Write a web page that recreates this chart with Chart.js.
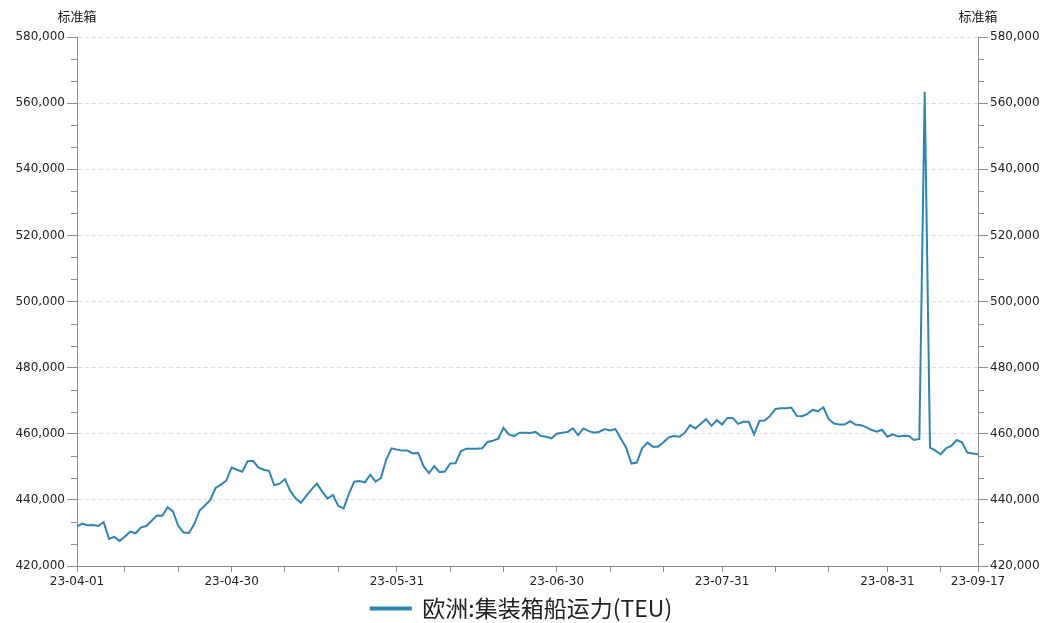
<!DOCTYPE html>
<html>
<head>
<meta charset="utf-8">
<script src="https://cdn.jsdelivr.net/npm/chart.js@4.4.0/dist/chart.umd.min.js"></script>
<style>
html,body{margin:0;padding:0;background:#fff}
#wrap{width:1043px;height:623px;position:relative}
</style>
</head>
<body>
<div id="wrap"><canvas id="c"></canvas></div>
<script>
// daily dates 23-04-01 .. 23-09-17
const firstDay = [2023, 3, 1];
const dayCount = 170;

// which day indexes carry a tick, and which of those get a label
const tickDays = [0, 9, 19, 29, 39, 49, 60, 70, 80, 90, 100, 110, 121, 131, 141, 152, 162, 169];
const labelDays = [0, 29, 60, 90, 121, 152, 169];

const yTicks = [420000, 440000, 460000, 480000, 500000, 520000, 540000, 560000, 580000];

const seriesName = '欧洲:集装箱船运力(TEU)';
const unitLabel = '标准箱';

const teu = [
  432000, 432800, 432300, 432400, 432100, 433300, 428200, 428800, 427600, 428900,
  430400, 429900, 431700, 432100, 433700, 435300, 435200, 437800, 436500, 432100,
  430100, 430000, 432700, 436800, 438300, 440000, 443600, 444600, 445800, 449800,
  449100, 448500, 451700, 451800, 449800, 449100, 448800, 444400, 444900, 446300,
  442700, 440500, 439100, 441200, 443200, 444900, 442500, 440400, 441500, 438200,
  437400, 441800, 445500, 445700, 445300, 447600, 445500, 446600, 452200, 455600,
  455200, 454900, 454900, 454000, 454200, 450200, 448100, 450200, 448400, 448600,
  451000, 451100, 454700, 455500, 455500, 455500, 455600, 457500, 457900, 458500,
  461800, 459800, 459300, 460300, 460300, 460200, 460600, 459300, 459100, 458600,
  460000, 460300, 460500, 461600, 459600, 461600, 460800, 460300, 460600, 461400,
  461000, 461400, 458600, 455800, 451000, 451300, 455600, 457300, 456100, 456100,
  457400, 458900, 459300, 459100, 460300, 462600, 461600, 463000, 464400, 462400,
  464100, 462800, 464800, 464800, 463000, 463600, 463600, 459800, 463900, 464000,
  465400, 467500, 467700, 467700, 467900, 465400, 465300, 466000, 467200, 466800,
  468000, 464400, 463100, 462800, 462800, 463800, 462800, 462600, 462000, 461200,
  460600, 461200, 459100, 459800, 459200, 459400, 459300, 458100, 458400, 563400,
  455800, 454900, 453800, 455600, 456300, 458100, 457400, 454300, 454000, 453800
];

function pad(n) { return (n < 10 ? '0' : '') + n; }
const dates = [];
for (let i = 0; i < dayCount; i++) {
  let d = new Date(firstDay[0], firstDay[1], firstDay[2] + i);
  dates.push(String(d.getFullYear()).slice(2) + '-' + pad(d.getMonth() + 1) + '-' + pad(d.getDate()));
}

const lineColor = '#3084b2';
const axisColor = '#8c8c8c';
const textColor = '#222';
const tickFont = {family: 'DejaVu Sans', size: 12};

// short minor ticks between the labelled y ticks, on both sides
const minorTicks = {
  id: 'minorTicks',
  afterDraw(chart) {
    let ctx = chart.ctx;
    ctx.save();
    ctx.strokeStyle = axisColor;
    ctx.lineWidth = 1;
    ['y', 'y2'].forEach((id) => {
      let sc = chart.scales[id];
      let x0 = id === 'y' ? sc.right : sc.left;
      let dir = id === 'y' ? -1 : 1;
      for (let i = 0; i < yTicks.length - 1; i++) {
        for (let k = 1; k < 3; k++) {
          let v = yTicks[i] + (yTicks[i + 1] - yTicks[i]) * k / 3;
          let py = Math.round(sc.getPixelForValue(v)) + 0.5;
          ctx.beginPath();
          ctx.moveTo(x0, py);
          ctx.lineTo(x0 + dir * 6, py);
          ctx.stroke();
        }
      }
    });
    ctx.fillStyle = textColor;
    ctx.font = '13px "Noto Sans CJK SC"';
    ctx.textAlign = 'center';
    ctx.textBaseline = 'middle';
    ctx.fillText(unitLabel, chart.chartArea.left, 16);
    ctx.fillText(unitLabel, chart.chartArea.right, 16);
    ctx.restore();
  }
};

function yAxis(pos, w) {
  return {
    type: 'linear',
    position: pos,
    min: 420000,
    max: 580000,
    afterBuildTicks: (sc) => { sc.ticks = yTicks.map((v) => ({value: v})); },
    afterFit: (sc) => { sc.width = w; },
    border: {display: true, color: axisColor, width: 1, dash: [4, 3]},
    grid: {
      display: true,
      drawOnChartArea: pos === 'left',
      color: (c) => (c.tick && c.tick.value === 420000 ? 'rgba(0,0,0,0)' : '#dedede'),
      tickColor: axisColor,
      tickLength: 10,
      tickBorderDash: []
    },
    ticks: {
      color: textColor,
      font: tickFont,
      padding: 2,
      callback: (v) => v.toLocaleString('en-US')
    }
  };
}

new Chart(document.getElementById('c'), {
  type: 'line',
  data: {
    labels: dates,
    datasets: [{
      label: seriesName,
      data: teu,
      borderColor: lineColor,
      backgroundColor: lineColor,
      borderWidth: 2,
      pointRadius: 0,
      tension: 0,
      yAxisID: 'y'
    }]
  },
  options: {
    responsive: true,
    maintainAspectRatio: false,
    animation: false,
    layout: {padding: {top: 37, left: 0, right: 0, bottom: -7}},
    plugins: {
      tooltip: {enabled: false},
      legend: {
        position: 'bottom',
        labels: {
          boxWidth: 40,
          boxHeight: 2,
          padding: 3,
          color: textColor,
          font: {family: 'Noto Sans CJK SC', size: 23, lineHeight: 1}
        }
      }
    },
    scales: {
      x: {
        type: 'category',
        afterBuildTicks: (sc) => { sc.ticks = tickDays.map((i) => ({value: i})); },
        afterFit: (sc) => { sc.height = 28; },
        border: {display: true, color: axisColor, width: 1},
        grid: {display: true, drawOnChartArea: false, tickColor: axisColor, tickLength: 6},
        ticks: {
          autoSkip: false,
          maxRotation: 0,
          color: textColor,
          font: tickFont,
          padding: 3,
          callback: function (v) { return labelDays.indexOf(v) >= 0 ? dates[v] : ''; }
        }
      },
      y: yAxis('left', 77),
      y2: yAxis('right', 65)
    }
  },
  plugins: [minorTicks]
});
</script>
</body>
</html>
